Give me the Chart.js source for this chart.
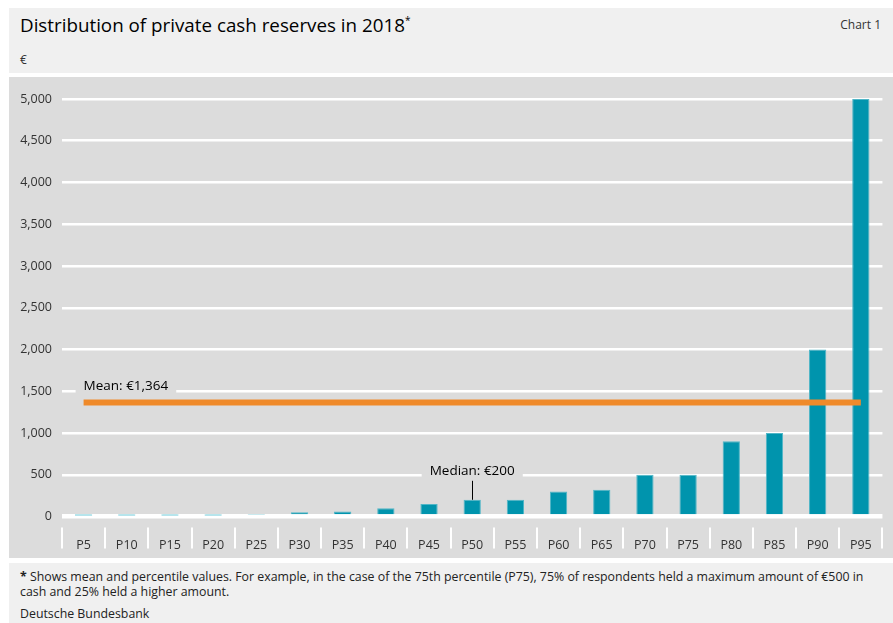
<!DOCTYPE html>
<html>
<head>
<meta charset="utf-8">
<script src="https://cdn.jsdelivr.net/npm/chart.js@4/dist/chart.umd.min.js"></script>
<style>
  html, body { margin: 0; padding: 0; background: #ffffff; width: 893px; height: 623px; overflow: hidden; font-family: "Open Sans", sans-serif; color: #1a1a1a; }
  .panel { position: absolute; left: 9px; width: 884px; }
  #head { top: 8px; height: 65px; background: #f0f0f0; }
  #plot { top: 77px; height: 481px; background: #dcdcdc; }
  #foot { top: 563px; height: 60px; background: #f0f0f0; }
  #title { position: absolute; left: 11px; top: 4px; font-size: 18.8px; color: #000; white-space: nowrap; }
  #title sup { font-size: 10px; position: relative; top: -1px; }
  #chartno { position: absolute; right: 12px; top: 8px; font-size: 12px; color: #333; }
  #unit { position: absolute; left: 11px; top: 43px; font-size: 12px; color: #333; }
  #note { position: absolute; left: 11px; top: 6px; width: 866px; font-size: 12.35px; line-height: 15px; color: #222; }
  #source { position: absolute; left: 11px; top: 42px; font-size: 12.35px; color: #222; }
  canvas { position: absolute; left: 0; top: 0; }
</style>
</head>
<body>
<div id="head" class="panel">
  <div id="title">Distribution of private cash reserves in 2018<sup>*</sup></div>
  <div id="chartno">Chart 1</div>
  <div id="unit">€</div>
</div>
<div id="plot" class="panel"><canvas id="c" width="884" height="481"></canvas></div>
<div id="foot" class="panel">
  <div id="note"><b>*</b> Shows mean and percentile values. For example, in the case of the 75th percentile (P75), 75% of respondents held a maximum amount of €500 in cash and 25% held a higher amount.</div>
  <div id="source">Deutsche Bundesbank</div>
</div>
<script>
// Percentiles of private cash holdings, in euro
const categories = ['P5', 'P10', 'P15', 'P20', 'P25', 'P30', 'P35', 'P40', 'P45', 'P50',
                    'P55', 'P60', 'P65', 'P70', 'P75', 'P80', 'P85', 'P90', 'P95'];
const cashValues = [10, 10, 10, 10, 20, 50, 60, 100, 150, 200,
                    200, 300, 320, 500, 500, 900, 1000, 2000, 5000];
const meanValue = 1364;
const medianCategory = 'P50';
const yTicks = [0, 500, 1000, 1500, 2000, 2500, 3000, 3500, 4000, 4500, 5000];

const TEAL = '#0094ad';
const TEAL_LIGHT = '#7fd0dd';
const ORANGE = '#ef8a2a';
const fmt = v => v.toLocaleString('en-US');
const labelFont = '13.5px "Open Sans", sans-serif';

// Category separators under the x axis
const separators = {
  id: 'separators',
  afterDraw(chart) {
    const x = chart.scales.x, area = chart.chartArea, ctx = chart.ctx;
    const half = (x.getPixelForValue(1) - x.getPixelForValue(0)) / 2;
    ctx.save();
    ctx.strokeStyle = '#ffffff';
    ctx.lineWidth = 2;
    for (let i = 0; i <= categories.length; i++) {
      const px = Math.round(x.getPixelForValue(Math.min(i, categories.length - 1)) + (i === categories.length ? half : -half));
      ctx.beginPath();
      ctx.moveTo(px, area.bottom + 11);
      ctx.lineTo(px, area.bottom + 32);
      ctx.stroke();
    }
    ctx.restore();
  }
};

// Mean and median annotations
const annotations = {
  id: 'annotations',
  afterDatasetsDraw(chart) {
    const x = chart.scales.x, y = chart.scales.y, ctx = chart.ctx;
    ctx.save();
    ctx.font = labelFont;
    ctx.textBaseline = 'alphabetic';

    // Mean label, above the left end of the mean line
    const meanText = 'Mean: €' + fmt(meanValue);
    const mx = x.getPixelForValue(0);
    const my = y.getPixelForValue(meanValue) - 13;
    const mw = ctx.measureText(meanText).width;
    ctx.fillStyle = '#dcdcdc';
    ctx.fillRect(mx - 8, my - 14, mw + 16, 19);
    ctx.fillStyle = '#000';
    ctx.textAlign = 'left';
    ctx.fillText(meanText, mx, my);

    // Median label with leader line to the P50 bar
    const mi = categories.indexOf(medianCategory);
    const medianValue = cashValues[mi];
    const medText = 'Median: €' + fmt(medianValue);
    const cx = x.getPixelForValue(mi);
    const top = y.getPixelForValue(medianValue);
    const by = top - 25;
    const tw = ctx.measureText(medText).width;
    ctx.fillStyle = '#dcdcdc';
    ctx.fillRect(cx - tw / 2 - 8, by - 14, tw + 16, 19);
    ctx.fillStyle = '#000';
    ctx.textAlign = 'center';
    ctx.fillText(medText, cx, by);
    ctx.strokeStyle = '#000';
    ctx.lineWidth = 1;
    ctx.beginPath();
    ctx.moveTo(Math.round(cx) + 0.5, by + 6);
    ctx.lineTo(Math.round(cx) + 0.5, top);
    ctx.stroke();
    ctx.restore();
  }
};

new Chart(document.getElementById('c'), {
  data: {
    labels: categories,
    datasets: [
      {
        type: 'line',
        label: 'Mean',
        data: categories.map(() => meanValue),
        borderColor: ORANGE,
        borderWidth: 6,
        pointRadius: 0,
        borderCapStyle: 'butt',
        order: 0
      },
      {
        type: 'bar',
        label: 'Cash reserves',
        data: cashValues,
        backgroundColor: ctx => ctx.dataIndex < 4 ? TEAL_LIGHT : TEAL,
        borderColor: ctx => ctx.dataIndex < 4 ? TEAL_LIGHT : '#4fb6c7',
        borderWidth: 1,
        borderSkipped: 'start',
        barPercentage: 0.4,
        categoryPercentage: 1,
        order: 1
      }
    ]
  },
  options: {
    responsive: false,
    animation: false,
    events: [],
    layout: { padding: { top: 22, right: 10, left: 0, bottom: 0 } },
    plugins: { legend: { display: false }, tooltip: { enabled: false } },
    scales: {
      x: {
        offset: true,
        grid: { display: false, drawTicks: false },
        border: { display: false },
        ticks: { color: '#333', font: { family: 'Open Sans', size: 12.5 }, padding: 21, maxRotation: 0 },
        afterFit: s => { s.height = 41.5; }
      },
      y: {
        min: 0,
        max: 5000,
        afterBuildTicks: s => { s.ticks = yTicks.map(v => ({ value: v })); },
        afterFit: s => { s.width = 53; },
        grid: {
          color: '#ffffff',
          lineWidth: ctx => ctx.tick && ctx.tick.value === 0 ? 4.5 : 2.5,
          drawTicks: false
        },
        border: { display: false },
        ticks: { color: '#333', font: { family: 'Open Sans', size: 12.5 }, padding: 10, callback: v => fmt(v) }
      }
    }
  },
  plugins: [separators, annotations]
});
</script>
</body>
</html>
